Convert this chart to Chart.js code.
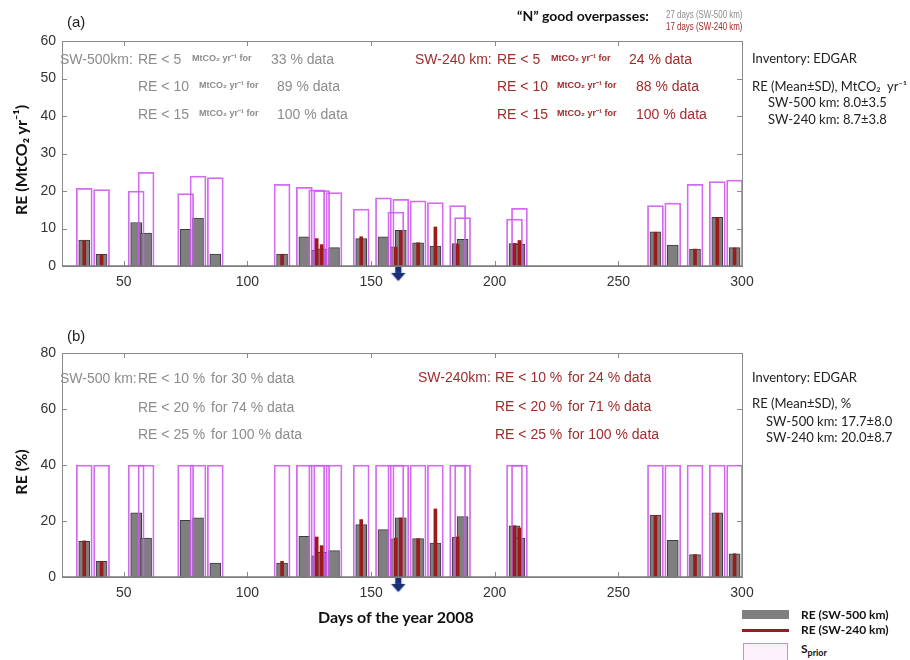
<!DOCTYPE html>
<html>
<head>
<meta charset="utf-8">
<script src="https://cdn.jsdelivr.net/npm/chart.js@4.4.1/dist/chart.umd.min.js"></script>
<style>
  body { margin: 0; background: #fff; }
  #wrap { position: relative; width: 910px; height: 660px; overflow: hidden; font-family: "Liberation Sans", Arial, sans-serif; }
  canvas { position: absolute; left: 0; }
  .t { position: absolute; white-space: nowrap; transform: translateY(-50%); line-height: 1; }
  .g { color: #8c8c8c; font-size: 14px; }
  .r { color: #a02c2c; font-size: 14px; }
  .u { font-size: 9px; font-weight: bold; }
  .n { font-size: 11px; transform: translateY(-50%) scaleX(0.72); transform-origin: left center; }
  .c { font-family: Lato, sans-serif; color: #222; font-size: 13px; }
  .b { font-family: Lato, sans-serif; font-weight: bold; color: #111; }
  .yt { position: absolute; white-space: nowrap; font-family: Lato, sans-serif; font-weight: bold; font-size: 16px; color: #111; transform: translate(-50%, -50%) rotate(-90deg); }
</style>
</head>
<body>
<div id="wrap">
  <canvas id="chartA" width="910" height="300" style="top:0"></canvas>
  <canvas id="chartB" width="910" height="311" style="top:300px"></canvas>

  <!-- panel (a) -->
  <div class="t" style="left:67px;top:21px;font-size:15px;color:#222">(a)</div>
  <div class="t b" style="left:517px;top:16px;font-size:14px">“N” good overpasses:</div>
  <div class="t g n" style="left:666px;top:14px">27 days (SW-500 km)</div>
  <div class="t r n" style="left:666px;top:26px">17 days (SW-240 km)</div>

  <div class="t g" style="left:60px;top:59px">SW-500km:</div>
  <div class="t g" style="left:138px;top:59px">RE &lt; 5</div>
  <div class="t g u" style="left:192px;top:58px">MtCO₂ yr⁻¹ for</div>
  <div class="t g" style="left:271px;top:59px">33 % data</div>
  <div class="t g" style="left:138px;top:86px">RE &lt; 10</div>
  <div class="t g u" style="left:199px;top:85px">MtCO₂ yr⁻¹ for</div>
  <div class="t g" style="left:277px;top:86px">89 % data</div>
  <div class="t g" style="left:138px;top:114px">RE &lt; 15</div>
  <div class="t g u" style="left:199px;top:113px">MtCO₂ yr⁻¹ for</div>
  <div class="t g" style="left:277px;top:114px">100 % data</div>

  <div class="t r" style="left:415px;top:59px">SW-240 km:</div>
  <div class="t r" style="left:497px;top:59px">RE &lt; 5</div>
  <div class="t r u" style="left:551px;top:58px">MtCO₂ yr⁻¹ for</div>
  <div class="t r" style="left:629px;top:59px">24 % data</div>
  <div class="t r" style="left:497px;top:86px">RE &lt; 10</div>
  <div class="t r u" style="left:557px;top:85px">MtCO₂ yr⁻¹ for</div>
  <div class="t r" style="left:636px;top:86px">88 % data</div>
  <div class="t r" style="left:497px;top:114px">RE &lt; 15</div>
  <div class="t r u" style="left:557px;top:113px">MtCO₂ yr⁻¹ for</div>
  <div class="t r" style="left:636px;top:114px">100 % data</div>

  <div class="t c" style="left:752px;top:58px">Inventory: EDGAR</div>
  <div class="t c" style="left:752px;top:86px">RE (Mean±SD), MtCO₂&nbsp; yr⁻¹</div>
  <div class="t c" style="left:768px;top:102px">SW-500 km: 8.0±3.5</div>
  <div class="t c" style="left:768px;top:119px">SW-240 km: 8.7±3.8</div>

  <div class="yt" style="left:20px;top:160px">RE (MtCO₂ yr⁻¹)</div>

  <!-- panel (b) -->
  <div class="t" style="left:67px;top:335px;font-size:15px;color:#222">(b)</div>

  <div class="t g" style="left:60px;top:378px">SW-500 km:</div>
  <div class="t g" style="left:138px;top:378px">RE &lt; 10 %</div>
  <div class="t g" style="left:211px;top:378px">for 30 % data</div>
  <div class="t g" style="left:138px;top:407px">RE &lt; 20 %</div>
  <div class="t g" style="left:211px;top:407px">for 74 % data</div>
  <div class="t g" style="left:138px;top:434px">RE &lt; 25 %</div>
  <div class="t g" style="left:211px;top:434px">for 100 % data</div>

  <div class="t r" style="left:418px;top:377px">SW-240km:</div>
  <div class="t r" style="left:495px;top:377px">RE &lt; 10 %</div>
  <div class="t r" style="left:568px;top:377px">for 24 % data</div>
  <div class="t r" style="left:495px;top:406px">RE &lt; 20 %</div>
  <div class="t r" style="left:568px;top:406px">for 71 % data</div>
  <div class="t r" style="left:495px;top:434px">RE &lt; 25 %</div>
  <div class="t r" style="left:568px;top:434px">for 100 % data</div>

  <div class="t c" style="left:752px;top:377px">Inventory: EDGAR</div>
  <div class="t c" style="left:752px;top:403px">RE (Mean±SD), %</div>
  <div class="t c" style="left:766px;top:421px">SW-500 km: 17.7±8.0</div>
  <div class="t c" style="left:766px;top:437px">SW-240 km: 20.0±8.7</div>

  <div class="yt" style="left:20px;top:472px">RE (%)</div>

  <div class="t b" style="left:318px;top:617px;font-size:16px">Days of the year 2008</div>

  <!-- legend -->
  <div style="position:absolute;left:742px;top:610px;width:47px;height:9px;background:#7f7f7f"></div>
  <div class="t b" style="left:801px;top:615px;font-size:12px">RE (SW-500 km)</div>
  <div style="position:absolute;left:742px;top:629px;width:47px;height:3px;background:#9a1b1b"></div>
  <div class="t b" style="left:801px;top:630px;font-size:12px">RE (SW-240 km)</div>
  <div style="position:absolute;left:743px;top:643px;width:43px;height:20px;border:1.5px solid #c98ae0;background:#fcf0fd"></div>
  <div class="t b" style="left:801px;top:650px;font-size:12px">S<sub style="font-size:9px">prior</sub></div>
</div>

<script>
// days with good overpasses
const days500 = [34, 41, 55, 59, 75, 80, 87, 114, 123, 128, 130, 135, 146, 155, 160, 162, 169, 176, 185, 187, 208, 210, 265, 272, 281, 290, 297];
const days240 = [34, 41, 114, 128, 130, 146, 160, 162, 169, 176, 185, 208, 210, 265, 281, 290, 297];

// panel (a): RE in MtCO2 yr-1
const reAbs500 = [6.9, 3.1, 11.6, 8.8, 9.8, 12.8, 3.2, 3.2, 7.8, 4.2, 4.6, 4.9, 7.3, 7.8, 5.1, 9.5, 6.2, 5.3, 6.0, 7.1, 6.0, 5.8, 9.1, 5.6, 4.5, 13.0, 4.9];
const reAbs240 = [6.7, 3.0, 3.1, 7.3, 5.7, 7.8, 5.0, 9.3, 6.2, 10.4, 5.8, 6.0, 6.8, 9.0, 4.5, 12.9, 4.8];
const priorAbs = [20.7, 20.4, 20.0, 25.0, 19.3, 24.0, 23.6, 21.8, 21.0, 20.3, 20.1, 19.6, 15.2, 18.2, 14.4, 17.8, 17.4, 16.9, 16.1, 12.9, 12.5, 15.4, 16.1, 16.8, 21.8, 22.5, 22.9];

// panel (b): RE in %
const rePct500 = [12.7, 5.6, 22.9, 13.9, 20.2, 21.1, 5.0, 5.0, 14.5, 7.6, 8.8, 9.4, 18.7, 16.9, 13.6, 21.1, 13.7, 12.1, 14.3, 21.6, 18.3, 13.9, 22.1, 13.1, 8.0, 22.9, 8.3];
const rePct240 = [12.9, 5.6, 5.6, 14.3, 11.2, 20.5, 13.9, 21.1, 13.7, 24.3, 14.3, 18.3, 17.5, 22.0, 8.0, 22.8, 8.3];
const priorPct = [40, 40, 40, 40, 40, 40, 40, 40, 40, 40, 40, 40, 40, 40, 40, 40, 40, 40, 40, 40, 40, 40, 40, 40, 40, 40, 40];

const xTicks = [50, 100, 150, 200, 250, 300];
const arrowDays = [161];

function pts(days, vals) {
  return days.map((d, i) => ({ x: d, y: vals[i] }));
}

// blue down arrow under the axis
const arrowImg = document.createElement("canvas");
arrowImg.width = 16;
arrowImg.height = 34;
const actx = arrowImg.getContext("2d");
actx.shadowColor = "rgba(90,130,230,0.7)";
actx.shadowBlur = 2;
actx.fillStyle = "#1c2f73";
actx.fillRect(5, 18, 6, 7);
actx.beginPath();
actx.moveTo(1, 24);
actx.lineTo(15, 24);
actx.lineTo(8, 32);
actx.closePath();
actx.fill();

// box round the plot with inward ticks
const framePlugin = {
  id: "frame",
  afterDatasetsDraw(chart) {
    const { ctx, chartArea: a, scales } = chart;
    const x = scales.x, y = scales.y;
    ctx.save();
    ctx.strokeStyle = "#8a8a8a";
    ctx.lineWidth = 1;
    ctx.beginPath();
    x.ticks.forEach((t) => {
      const px = Math.round(x.getPixelForValue(t.value)) + 0.5;
      ctx.moveTo(px, a.bottom); ctx.lineTo(px, a.bottom - 5);
      ctx.moveTo(px, a.top); ctx.lineTo(px, a.top + 5);
    });
    y.ticks.forEach((t) => {
      const py = Math.round(y.getPixelForValue(t.value)) + 0.5;
      ctx.moveTo(a.left, py); ctx.lineTo(a.left + 5, py);
      ctx.moveTo(a.right, py); ctx.lineTo(a.right - 5, py);
    });
    ctx.stroke();
    ctx.strokeRect(Math.round(a.left) + 0.5, Math.round(a.top) + 0.5, Math.round(a.right - a.left), Math.round(a.bottom - a.top));
    ctx.lineWidth = 1.5;
    ctx.strokeStyle = "#7a7a7a";
    ctx.beginPath();
    ctx.moveTo(a.left, a.bottom);
    ctx.lineTo(a.right, a.bottom);
    ctx.stroke();
    ctx.restore();
  },
};

const tickFont = { family: "Liberation Sans", size: 14 };

function makePanel(id, grey, red, prior, yMax, yStep, topPad) {
  return new Chart(document.getElementById(id), {
    type: "bar",
    data: {
      datasets: [
        {
          type: "line",
          data: arrowDays.map((d) => ({ x: d, y: 0 })),
          showLine: false,
          pointStyle: arrowImg,
          pointRadius: 8,
          clip: false,
          order: 0,
        },
        {
          label: "RE (SW-240 km)",
          data: pts(days240, red),
          backgroundColor: "#9a1b1b",
          barThickness: 3,
          grouped: false,
          order: 1,
        },
        {
          label: "Sprior",
          data: pts(days500, prior),
          backgroundColor: "rgba(0,0,0,0)",
          borderColor: "rgba(206,90,240,0.9)",
          borderWidth: 1.1,
          barThickness: 16,
          grouped: false,
          order: 2,
        },
        {
          label: "RE (SW-500 km)",
          data: pts(days500, grey),
          backgroundColor: "#7f7f7f",
          borderColor: "#3c3c3c",
          borderWidth: 1,
          barThickness: 11,
          grouped: false,
          order: 3,
        },
      ],
    },
    options: {
      responsive: false,
      animation: false,
      events: [],
      layout: { padding: { top: topPad, right: 168, bottom: 0, left: 0 } },
      plugins: { legend: { display: false }, tooltip: { enabled: false } },
      scales: {
        x: {
          type: "linear",
          min: 25,
          max: 300,
          offset: false,
          grid: { display: false, drawTicks: false, offset: false },
          border: { display: false },
          afterBuildTicks: (s) => { s.ticks = xTicks.map((v) => ({ value: v })); },
          afterFit: (s) => { s.height = 34; },
          ticks: { color: "#333", font: tickFont, padding: 8, maxRotation: 0, autoSkip: false },
        },
        y: {
          min: 0,
          max: yMax,
          grid: { display: false, drawTicks: false },
          border: { display: false },
          afterFit: (s) => { s.width = 62; },
          ticks: { stepSize: yStep, color: "#333", font: tickFont, padding: 6 },
        },
      },
    },
    plugins: [framePlugin],
  });
}

makePanel("chartA", reAbs500, reAbs240, priorAbs, 60, 10, 41);
makePanel("chartB", rePct500, rePct240, priorPct, 80, 20, 53);
</script>
</body>
</html>
